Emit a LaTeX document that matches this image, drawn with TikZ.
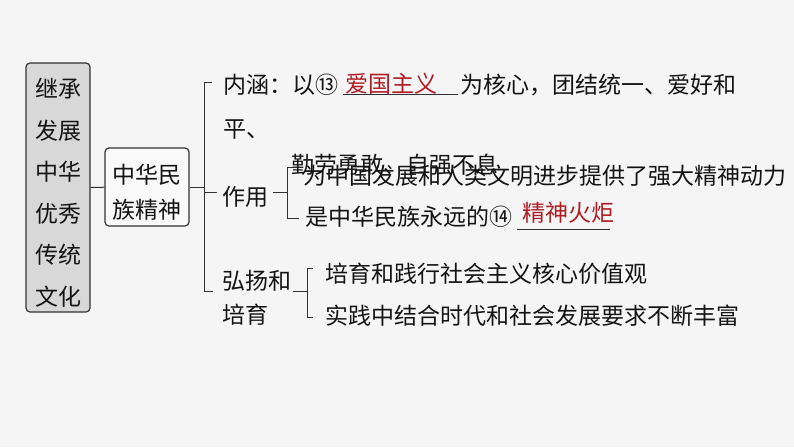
\documentclass[tikz,border=0pt]{standalone}
\usepackage{fontspec}
\newfontfamily\cjk{Noto Sans CJK SC}
\usepackage{tikz}
\usetikzlibrary{positioning,calc}
\definecolor{bgcol}{RGB}{245,245,245}
\definecolor{boxgray}{RGB}{216,216,216}
\definecolor{ansred}{RGB}{176,28,36}
\definecolor{inkcol}{RGB}{20,20,20}
\definecolor{linecol}{RGB}{50,50,50}

\begin{document}
\begin{tikzpicture}[x=1pt,y=-1pt,
		cn/.style={font=\cjk\fontsize{23pt}{27pt}\selectfont, text=inkcol, inner sep=0pt, text height=18.4pt, text depth=1.4pt},
		cnl/.style={cn, anchor=west},
		answer/.style={cnl, text=ansred},
		keybox/.style={draw=linecol, line width=1.2pt, rounded corners=4pt, inner sep=0pt},
		brk/.style={draw=linecol, line width=1pt}]
			\useasboundingbox (0,0) rectangle (794,447);
			\fill[bgcol] (0,0) rectangle (794,447);
			
			% 左侧两个框
			\node[keybox, fill=boxgray, minimum width=64pt, minimum height=249pt] (wenhua) at (58,187.5) {};
			\foreach \w [count=\i from 0] in {继承,发展,中华,优秀,传统,文化} {
				\node[cn] at (58,89+41.6*\i) {\w};
			}
			\node[keybox, fill=bgcol!60!white, minimum width=84pt, minimum height=78pt] (jingshen) at (147,187) {};
			\node[cn] (js1) at (147,175) {中华民};
			\node[cn] (js2) at (147,210) {族精神};
			\draw[brk] (wenhua) -- (jingshen);
			
			% 大括号
			\coordinate (mtop) at (204,82);
			\coordinate (mbot) at (204,291);
			\coordinate (zyk) at (204,192);
			\draw[brk] ($(mtop)+(8,0)$) -- (mtop) -- (mbot) -- ++(9,0);
			\draw[brk] (jingshen.east) -- (jingshen.east -| mtop);
			\draw[brk] (zyk) -- ++(13,0);
			
			% 内涵
			\node[cnl] (neihan) at (223,85) {内涵：以⑬};
			\node[answer] (aiguo) at (345,84) {爱国主义};
			\node[cnl] (hexin) at (460,85) {为核心，团结统一、爱好和};
			\node[cnl] (ping) at (223,129) {平、};
			\coordinate (ul1a) at (343,94);
			\coordinate (ul1b) at (458,94);
			\draw[brk] (ul1a) -- (ul1b);
			
			% 作用
			\node[cnl] (zuoyong) at (222,197) {作用};
			\coordinate (zyr) at (273,192);
			\coordinate (s1top) at (287,167);
			\coordinate (s1bot) at (287,218);
			\draw[brk] (zyr) -- (zyr -| s1top);
			\draw[brk] ($(s1top)+(6,0)$) -- (s1top) -- (s1bot) -- ++(12,0);
			\node[cnl] (qinlao) at (291,165) {勤劳勇敢、自强不息};
			\node[cnl] (dongli) at (303,176) {为中国发展和人类文明进步提供了强大精神动力};
			\node[cnl] (yongyuan) at (305,217) {是中华民族永远的⑭};
			\node[answer] (huoju) at (522,213) {精神火炬};
			\coordinate (ul2a) at (517,229);
			\coordinate (ul2b) at (610,229);
			\draw[brk] (ul2a) -- (ul2b);
			
			% 弘扬和培育
			\node[cnl] (hongyang) at (222,281) {弘扬和};
			\node[cnl] (peiyu) at (222,315) {培育};
			\coordinate (hyr) at (293,291);
			\coordinate (s2top) at (307,268);
			\coordinate (s2bot) at (307,317);
			\draw[brk] (hyr) -- (hyr -| s2top);
			\draw[brk] ($(s2top)+(6,0)$) -- (s2top) -- (s2bot) -- ++(6,0);
			\node[cnl] (jiazhi) at (325,274) {培育和践行社会主义核心价值观};
			\node[cnl] (fengfu) at (325,316) {实践中结合时代和社会发展要求不断丰富};
		\end{tikzpicture}
\end{document}
